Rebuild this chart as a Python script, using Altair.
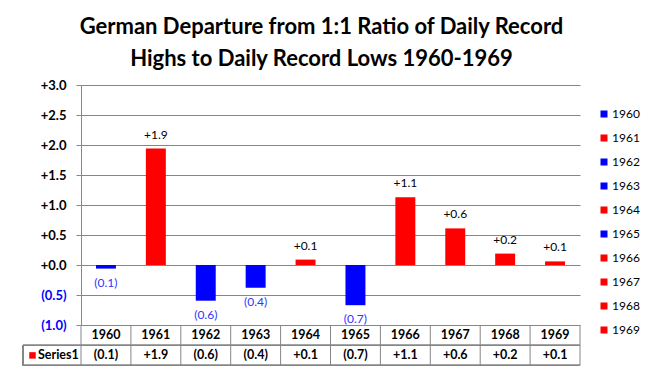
import altair as alt
import pandas as pd

# ---- data ----
years = ["1960", "1961", "1962", "1963", "1964", "1965", "1966", "1967", "1968", "1969"]
values = [-0.06, 1.94, -0.595, -0.38, 0.09, -0.67, 1.13, 0.61, 0.19, 0.06]
y_ticks = [-1.0, -0.5, 0.0, 0.5, 1.0, 1.5, 2.0, 2.5, 3.0]
title_lines = ["German Departure from 1:1 Ratio of Daily Record",
               "Highs to Daily Record Lows 1960-1969"]
series_name = "Series1"
boundaries = list(range(11))

RED = "#FF0000"
BLUE = "#0000FF"
GRID = "#868686"
FONT = "Lato"

W, H = 499, 240
ROW1 = 250.4   # year row centre (px below plot top)
ROW2 = 270.4   # value row centre
LINE1 = 260.4
LINE2 = 280.4
TABLE_LEFT = -58


def fmt(v):
    s = f"{abs(v):.1f}"
    return "+" + s if v >= 0 else "(" + s + ")"


df = pd.DataFrame({"year": years, "value": values, "label": [fmt(v) for v in values]})
bdf = pd.DataFrame({"b": boundaries})
colors = [RED if v >= 0 else BLUE for v in values]

xband = alt.X("year:N", sort=years,
              scale=alt.Scale(domain=years, paddingInner=0.6, paddingOuter=0.3),
              axis=None)

label_expr = ("datum.value >= 0 ? '+' + format(datum.value, '.1f') : "
              "'(' + format(-datum.value, '.1f') + ')'")

bars = alt.Chart(df).mark_bar().encode(
    x=xband,
    y=alt.Y("value:Q", scale=alt.Scale(domain=[-1, 3], nice=False, zero=False),
            axis=alt.Axis(values=y_ticks, tickCount=9, title=None, labelExpr=label_expr,
                          labelColor={"condition": {"test": "datum.value < 0", "value": BLUE},
                                      "value": "#000000"},
                          labelFont=FONT, labelFontSize=13, labelFontWeight="bold",
                          labelOverlap=False, labelFlush=False,
                          grid=True, gridColor=GRID, domainColor=GRID, tickColor=GRID,
                          tickSize=5, labelPadding=10)),
    color=alt.Color("year:N", sort=years,
                    scale=alt.Scale(domain=years, range=colors),
                    legend=alt.Legend(orient="none", legendX=517, legendY=23, title=None,
                                      symbolType="square", symbolSize=49,
                                      symbolStrokeWidth=0, labelFont=FONT,
                                      labelFontSize=12, rowPadding=12, labelOffset=2,
                                      padding=0)),
)

pos_labels = alt.Chart(df).transform_filter("datum.value >= 0").mark_text(
    baseline="bottom", dy=-7, font=FONT, fontSize=12, color="#000000"
).encode(x=xband, y="value:Q", text="label:N")

neg_labels = alt.Chart(df).transform_filter("datum.value < 0").mark_text(
    baseline="top", dy=9, font=FONT, fontSize=12, color="#3333FF"
).encode(x=xband, y="value:Q", text="label:N")

year_row = alt.Chart(df).mark_text(
    font=FONT, fontSize=12.5, fontWeight="bold", color="#000000", baseline="middle"
).encode(x=xband, y=alt.value(ROW1), text="year:N")

value_row = alt.Chart(df).mark_text(
    font=FONT, fontSize=12.5, fontWeight="bold", color="#000000", baseline="middle"
).encode(x=xband, y=alt.value(ROW2), text="label:N")

vlines = alt.Chart(bdf).mark_rule(color=GRID, strokeWidth=1).encode(
    x=alt.X("b:Q", scale=alt.Scale(domain=[0, 10], nice=False), axis=None),
    y=alt.value(H), y2=alt.value(LINE2),
)

hline1 = alt.Chart(bdf).mark_rule(color=GRID, strokeWidth=1).encode(
    x=alt.value(TABLE_LEFT), x2=alt.value(W), y=alt.value(LINE1))
hline2 = alt.Chart(bdf).mark_rule(color=GRID, strokeWidth=1).encode(
    x=alt.value(TABLE_LEFT), x2=alt.value(W), y=alt.value(LINE2))
leftline = alt.Chart(bdf).mark_rule(color=GRID, strokeWidth=1).encode(
    x=alt.value(TABLE_LEFT), y=alt.value(LINE1), y2=alt.value(LINE2))

series_df = pd.DataFrame({"s": [series_name]})
series_sq = alt.Chart(series_df).mark_square(size=42, color=RED, opacity=1).encode(
    x=alt.value(-48.5), y=alt.value(ROW2))
series_tx = alt.Chart(series_df).mark_text(
    font=FONT, fontSize=12.5, fontWeight="bold", align="left", baseline="middle",
    color="#000000").encode(x=alt.value(-43), y=alt.value(ROW2), text="s:N")

chart = alt.layer(
    bars, pos_labels, neg_labels, year_row, value_row,
    vlines, hline1, hline2, leftline, series_sq, series_tx
).resolve_scale(x="independent").properties(
    width=W, height=H,
    title=alt.TitleParams(text=title_lines, font=FONT, fontSize=22, fontWeight="bold",
                          color="#000000", anchor="middle", lineHeight=32, dx=-9,
                          offset=8),
    autosize=alt.AutoSizeParams(type="none"),
    padding={"left": 73, "top": 77, "right": 65, "bottom": 41},
    background="white",
).configure_view(stroke=None)

chart.save("out.html", embed_options={"renderer": "svg", "actions": False})
